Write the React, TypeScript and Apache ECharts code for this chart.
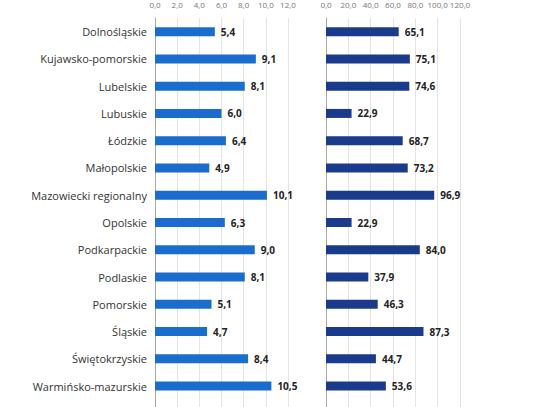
import React, { useEffect, useRef } from "react";
import * as echarts from "echarts";

const categories = [
  "Dolnośląskie",
  "Kujawsko-pomorskie",
  "Lubelskie",
  "Lubuskie",
  "Łódzkie",
  "Małopolskie",
  "Mazowiecki regionalny",
  "Opolskie",
  "Podkarpackie",
  "Podlaskie",
  "Pomorskie",
  "Śląskie",
  "Świętokrzyskie",
  "Warmińsko-mazurskie",
  "Warszawski stołeczny",
];

const leftValues: (number | null)[] = [5.4, 9.1, 8.1, 6.0, 6.4, 4.9, 10.1, 6.3, 9.0, 8.1, 5.1, 4.7, 8.4, 10.5, null];
const rightValues: (number | null)[] = [65.1, 75.1, 74.6, 22.9, 68.7, 73.2, 96.9, 22.9, 84.0, 37.9, 46.3, 87.3, 44.7, 53.6, null];

const leftTicks = { min: 0, max: 12, interval: 2 };
const rightTicks = { min: 0, max: 120, interval: 20 };

const fmt = (v: number) => v.toFixed(1).replace(".", ",");

export default function App() {
  const ref = useRef<HTMLDivElement>(null);
  useEffect(() => {
    if (!ref.current) return;
    const chart = echarts.init(ref.current, undefined, { renderer: "svg" });
    const font = "'Open Sans', 'Noto Sans', sans-serif";
    const valueAxis = (gridIndex: number, t: { min: number; max: number; interval: number }) => ({
      type: "value" as const,
      gridIndex,
      position: "top" as const,
      min: t.min,
      max: t.max,
      interval: t.interval,
      axisLine: { show: false },
      axisTick: { show: false },
      axisLabel: {
        formatter: (v: number) => fmt(v),
        fontSize: 8,
        color: "#777",
        fontFamily: font,
        margin: 10,
        hideOverlap: false,
        showMaxLabel: true,
        showMinLabel: true,
      },
      splitLine: { show: true, lineStyle: { color: "#e3e3e3", width: 1 } },
    });
    const catAxis = (gridIndex: number, showLabels: boolean) => ({
      type: "category" as const,
      gridIndex,
      data: categories,
      inverse: true,
      axisLine: { show: true, lineStyle: { color: "#a8a8a8", width: 1 } },
      axisTick: { show: false },
      axisLabel: { show: showLabels, fontSize: 11, color: "#333", fontFamily: font, margin: 8 },
    });
    const labelCfg = {
      show: true,
      position: "right" as const,
      distance: 6,
      fontSize: 10,
      fontWeight: "bold" as const,
      color: "#222",
      fontFamily: font,
      formatter: (p: any) => (p.value == null ? "" : fmt(p.value)),
    };
    chart.setOption({
      animation: false,
      backgroundColor: "#ffffff",
      grid: [
        { left: 155, top: 12, width: 133, height: 415 },
        { left: 326, top: 12, width: 134, height: 415 },
      ],
      xAxis: [valueAxis(0, leftTicks), valueAxis(1, rightTicks)],
      yAxis: [catAxis(0, true), catAxis(1, false)],
      series: [
        {
          type: "bar",
          xAxisIndex: 0,
          yAxisIndex: 0,
          data: leftValues,
          barWidth: 9,
          itemStyle: { color: "#1a6dcc" },
          label: labelCfg,
        },
        {
          type: "bar",
          xAxisIndex: 1,
          yAxisIndex: 1,
          data: rightValues,
          barWidth: 9,
          itemStyle: { color: "#1a3a8c" },
          label: labelCfg,
        },
      ],
    });
    return () => chart.dispose();
  }, []);
  return (
    <div
      ref={ref}
      style={{ position: "absolute", left: 0, top: 0, width: 540, height: 440 }}
    />
  );
}
